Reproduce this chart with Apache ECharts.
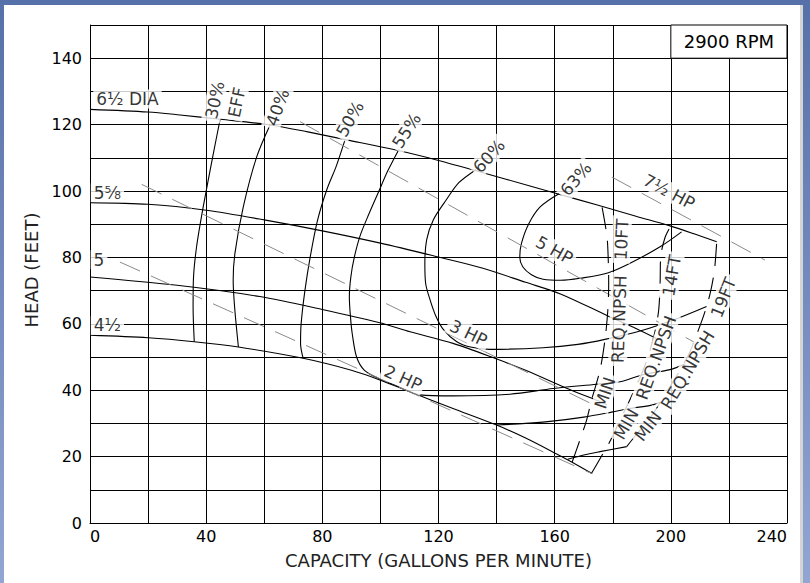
<!DOCTYPE html>
<html>
<head>
<meta charset="utf-8">
<script src="https://cdn.jsdelivr.net/npm/echarts@6/dist/echarts.min.js"></script>
<style>
html,body{margin:0;padding:0;width:810px;height:583px;overflow:hidden;background:linear-gradient(#5670a9,#92a6d3);}
#frame{position:absolute;left:4px;top:5px;width:796px;height:578px;background:#fff;border-right:3px solid #d4d4d4;}
#chart{position:absolute;left:0;top:0;width:810px;height:583px;}
</style>
</head>
<body>
<div id="frame"></div>
<div id="chart"></div>
<script>
// ---------------- data (capacity in GPM, head in feet) ----------------
const xTickLabels = [0, 40, 80, 120, 160, 200, 240];
const yTickLabels = [0, 20, 40, 60, 80, 100, 120, 140];

// impeller diameter head curves
const dia6_5 = [[0,124.6],[20,123.8],[31,122.9],[45,121.6],[62,119.9],[75,117.8],[88.4,115.4],[105,112.4],[120,109.2],[135,105.6],[151.5,101.5],[160,99.4],[175,95.7],[188,92.4],[199.7,89.5],[208,87.1],[215.8,84.7]];
const dia5_625 = [[0,96.5],[20,96],[40,94.2],[60,91.3],[80,88],[100,84.3],[120,80.1],[135,76.8],[150,72.5],[162,69],[178.5,62.3],[188,58.6],[195,55.6]];
const dia5 = [[0,74.1],[30,71.6],[58.5,68.2],[80,64.3],[99.8,60.3],[110.2,57.6],[125,54.1],[139.4,49.6],[150,46],[164.1,40.6],[174.5,37],[178,35.7]];
const dia4_5 = [[0,56.6],[20,55.8],[35.9,54.6],[51.1,53],[73.4,49.6],[90,46],[99.8,43.1],[110.2,39.5],[125,34.5],[140,29.5],[150,25.6],[160.7,20.8],[166,18.3],[172.7,15]];

// efficiency contours
const eff30 = [[44.8,121.6],[42.5,111.4],[39,95.3],[36.7,83.2],[35.6,73.2],[35.5,65],[35.9,54.6]];
const eff40 = [[62,119.9],[57.4,110.3],[52.8,95.3],[49.9,81.2],[49.3,73.2],[49.8,65],[51.1,53]];
const eff50 = [[87.8,115.4],[84.8,107.5],[81.5,100.3],[78.3,91],[75.8,80],[74,70],[72.7,60],[72.5,54],[73.4,49.6]];
const eff55 = [[106.4,112.6],[102.5,106],[99.5,100],[96,93],[93,86.5],[91,80],[89.8,74],[89.3,68],[89.7,62],[90.3,57],[91.8,50],[94.5,46],[99.8,43.4],[106,41.2],[113.6,38.6],[125,38.3],[144.6,38.8],[159.5,40.5],[174.5,41.8],[183,42.6],[190,44.6],[199.7,46.2],[205,48]];
const eff60 = [[133,106.5],[127,102.5],[122.8,97.5],[118.2,91.3],[115.9,85.2],[115.3,78],[115.6,72],[117.1,67.2],[119,62.5],[121.5,58.5],[126.3,54.6],[131,53],[137.7,52.3],[156,52.8],[168,53.8],[177.3,55.3],[190,58],[202.5,61.7],[212.3,65.2]];
const eff63 = [[161.5,99.2],[155,95.2],[151,90],[148.5,84],[148,80],[149,77.2],[152,74.8],[156,73.4],[162,73.1],[168.7,73.7],[178.5,75.4],[186.3,78.4],[196.3,83.2],[203.7,87.7]];
const effLow50 = [[140,29.5],[150,30],[158.4,30.6],[170,31.9],[179.6,33.4],[186,34.5],[193.4,35.5],[196.8,36.5]];
const effLow40 = [[164.5,19.2],[170,20.5],[175.6,21.5],[184.8,23]];

// horsepower lines
const hp2 = [[10.3,78.6],[173,14.8]];
const hp3 = [[17.8,102],[176,34.5]];
const hp5 = [[72.3,120.9],[210,53.5]];
const hp7_5 = [[179.7,104.2],[232.4,79.2]];

// minimum required NPSH lines
const npsh10 = [[166,18.3],[168.7,25],[171,31],[172.7,37],[175.6,46],[177.3,55],[178.3,64],[178.6,72],[178.5,78],[178,86.4],[176.2,95.7]];
const npsh14 = [[172.7,15],[176.7,21],[179.6,25.5],[182.5,31],[185.3,36],[187.7,40.6],[190,45],[192.5,51],[194.5,57.5],[195.8,64],[196.3,72],[196.5,80],[198,86],[200,89.5]];
const npsh19 = [[184.8,23],[188,26.5],[192.8,31.5],[196.5,36.5],[200,41.5],[203.5,46.5],[206.6,51.6],[209,57],[211.5,63],[213.5,69],[215,76],[215.8,84.7]];

// annotations (text and anchor point in data units)
const annotationTexts = ['6½ DIA','5⅝','5','4½','30%','EFF','40%','50%','55%','60%','63%','7½ HP','5 HP','3 HP','2 HP',
  'MIN','REQ.NPSH','10FT','MIN','REQ.NPSH','14FT','MIN','REQ.NPSH','19FT'];
const annotationAnchors = [[12.9,127.7],[6,99.5],[3.1,79.3],[6,59.5],[43,127.4],[50.5,126.7],[64.6,125.2],[89.5,121.7],[109,118.2],[137.4,110.5],[167.3,103.6],
  [199.4,99.8],[159.9,82.2],[130.3,57.2],[107.8,43.7],
  [177.3,39.2],[182.2,61.4],[183,85.4],[184.6,29.8],[194.9,49.8],[200.3,74.5],[192.1,29.2],[205.8,46.1],[218.1,67.9]];
const speedText = '2900 RPM';
const speedCell = [[200,140],[240,150]];

// ---------------- styling ----------------
const FONT = 'DejaVu Sans';
const annotationAngles = [0,0,0,0,78,78,70,60,57,48,50,-28,-29,-26,-24,72,88,87,60,70,80,52,59,68];

const chart = echarts.init(document.getElementById('chart'), null, {renderer: 'svg'});

function curve(data, smooth) {
  return {type:'line', data, showSymbol:false, symbol:'none', smooth: smooth, z:3, silent:true,
    lineStyle:{color:'#000', width:1.1}};
}
function dashed(data, color, width, smooth) {
  return {type:'line', data, showSymbol:false, symbol:'none', smooth: smooth, z:3, silent:true,
    lineStyle:{color, width, type:[22,12]}};
}

const series = [
  curve(dia6_5, 0.3), curve(dia5_625, 0.3), curve(dia5, 0.3), curve(dia4_5, 0.3),
  curve(eff30, 0.3), curve(eff40, 0.3), curve(eff50, 0.3), curve(eff55, 0.3), curve(eff60, 0.3), curve(eff63, 0.35),
  curve(effLow50, 0.3), curve(effLow40, 0.3),
  dashed(hp2, '#8a8a8a', 1, false), dashed(hp3, '#8a8a8a', 1, false), dashed(hp5, '#8a8a8a', 1, false), dashed(hp7_5, '#8a8a8a', 1, false),
  dashed(npsh10, '#000', 1.1, 0.3), dashed(npsh14, '#000', 1.1, 0.3), dashed(npsh19, '#000', 1.1, 0.3),
  {
    type:'scatter', z:10, symbolSize:0, silent:true,
    data: annotationTexts.map((t,i)=>({name:t, value:annotationAnchors[i], label:{rotate:annotationAngles[i]}})),
    label:{show:true, position:'inside', align:'center', verticalAlign:'middle', formatter:p=>p.name,
      fontFamily:FONT, fontSize:17, fontWeight:'normal', color:'#000', backgroundColor:'#fff', padding:[1,3]},
    labelLayout:{hideOverlap:false},
    markArea:{silent:true, z:6,
      itemStyle:{color:'#fff', borderColor:'#000', borderWidth:1},
      label:{show:true, position:'inside', fontFamily:FONT, fontSize:18, fontWeight:'normal', color:'#000'},
      data:[[{name:speedText, coord:speedCell[0]},{coord:speedCell[1]}]]}
  }
];

chart.setOption({
  animation:false,
  backgroundColor:'transparent',
  grid:{left:90, right:23, top:25, bottom:60, containLabel:false, outerBoundsMode:'none'},
  xAxis:{type:'value', min:0, max:240, interval:20,
    axisLine:{show:true, onZero:false, lineStyle:{color:'#000', width:1}},
    axisTick:{show:false},
    splitLine:{show:true, lineStyle:{color:'#000', width:1}},
    axisLabel:{fontFamily:FONT, fontSize:16, fontWeight:'normal', color:'#000', margin:5, hideOverlap:false,
      showMinLabel:true, showMaxLabel:true, alignMinLabel:'left', alignMaxLabel:'right',
      formatter:v=>xTickLabels.includes(v)?String(v):''},
    name:'CAPACITY (GALLONS PER MINUTE)', nameLocation:'middle', nameGap:28, nameMoveOverlap:false,
    nameTextStyle:{fontFamily:FONT, fontSize:18, fontWeight:'normal', color:'#222'}},
  yAxis:{type:'value', min:0, max:150, interval:10,
    axisLine:{show:true, onZero:false, lineStyle:{color:'#000', width:1}},
    axisTick:{show:false},
    splitLine:{show:true, lineStyle:{color:'#000', width:1}},
    axisLabel:{fontFamily:FONT, fontSize:16, fontWeight:'normal', color:'#000', margin:8, hideOverlap:false,
      showMinLabel:true, showMaxLabel:false,
      formatter:v=>yTickLabels.includes(v)?String(v):''},
    name:'HEAD (FEET)', nameLocation:'middle', nameGap:50, nameRotate:90, nameMoveOverlap:false,
    nameTextStyle:{fontFamily:FONT, fontSize:18, fontWeight:'normal', color:'#222', padding:[0,0,0,8]}},
  series
});
</script>
</body>
</html>
